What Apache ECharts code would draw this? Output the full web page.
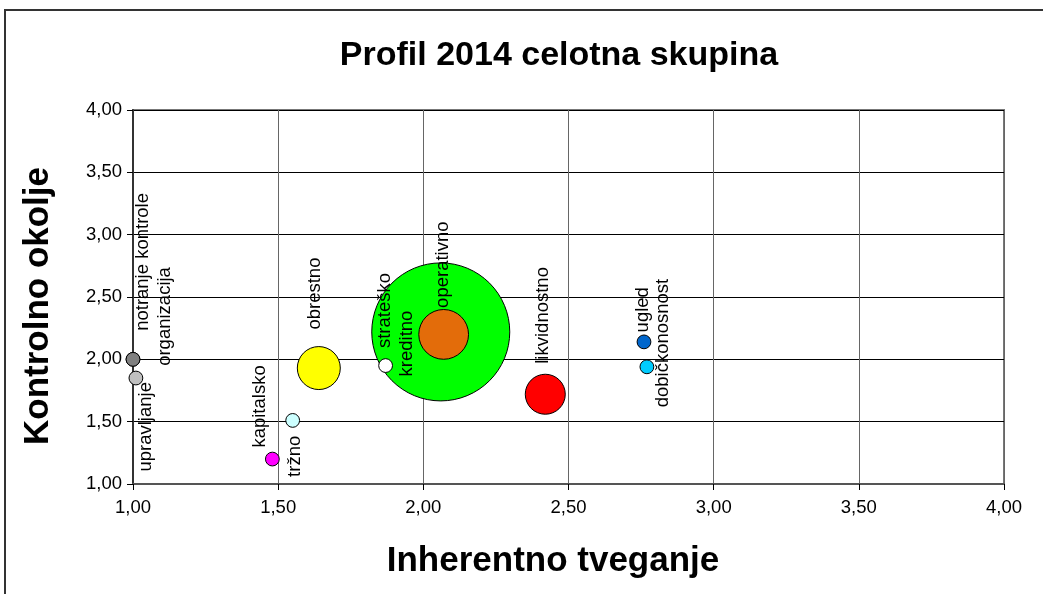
<!DOCTYPE html>
<html>
<head>
<meta charset="utf-8">
<script src="https://cdn.jsdelivr.net/npm/echarts@6/dist/echarts.min.js"></script>
<style>
html,body{margin:0;padding:0;background:#fff;}
#chart{width:1043px;height:594px;}
</style>
</head>
<body>
<div id="chart"></div>
<script>
// risk profile data
var names = ['kreditno','operativno','obrestno','likvidnostno','strateško','tržno','kapitalsko','notranje kontrole','organizacija','upravljanje','ugled','dobičkonosnost'];
var inherentno = [2.06, 2.07, 1.64, 2.42, 1.87, 1.55, 1.48, 1.00, 1.00, 1.01, 2.76, 2.77];
var kontrolno = [2.22, 2.20, 1.93, 1.72, 1.95, 1.51, 1.20, 2.00, 2.00, 1.85, 2.14, 1.94];
var velikost = [100, 13, 9.7, 8.4, 1, 1, 1, 1, 1, 1, 1, 1];
var ticks = [1, 1.5, 2, 2.5, 3, 3.5, 4];

// styles
var colors = ['#00ff00','#e36c0a','#ffff00','#ff0000','#ffffff','#ccffff','#ff00ff','#808080','#808080','#c0c0c0','#0066cc','#00ccff'];
// where the rotated label starts, relative to the bubble centre
var labelOffsets = [[-33,45],[0,-26],[-3,-38],[-2,-30],[0,-17],[3,57],[-12,-11],[10,-28],[32,7],[11,94],[-1,-9],[17,41]];

var FONT = 'Liberation Sans, Arial, sans-serif';
var myChart = echarts.init(document.getElementById('chart'));

var data = [];
for (var i = 0; i < names.length; i++) {
	var size = 2 * 6.9 * Math.sqrt(velikost[i]);
	data.push({
		name: names[i],
		value: [inherentno[i], kontrolno[i], velikost[i]],
		symbolSize: size,
		itemStyle: { color: colors[i] },
		label: { position: [size / 2 + labelOffsets[i][0], size / 2 + labelOffsets[i][1]] }
	});
}

function fmt(v) {
	return v.toFixed(2).replace('.', ',');
}

var option = {
	animation: false,
	textStyle: { fontFamily: FONT },
	graphic: [{
		type: 'rect',
		shape: { x: 5, y: 10, width: 1100, height: 700 },
		style: { fill: 'none', stroke: '#333', lineWidth: 2 },
		silent: true
	}, {
		type: 'text',
		x: 559, y: 56,
		style: { text: 'Profil 2014 celotna skupina', fontSize: 34, fontWeight: 'bold', fontFamily: FONT, fill: '#000', align: 'center', verticalAlign: 'middle' }
	}, {
		type: 'text',
		x: 553, y: 561,
		style: { text: 'Inherentno tveganje', fontSize: 35, fontWeight: 'bold', fontFamily: FONT, fill: '#000', align: 'center', verticalAlign: 'middle' }
	}, {
		type: 'text',
		x: 38, y: 306,
		rotation: Math.PI / 2,
		style: { text: 'Kontrolno okolje', fontSize: 35, fontWeight: 'bold', fontFamily: FONT, fill: '#000', align: 'center', verticalAlign: 'middle' }
	}],
	grid: {
		left: 133,
		right: 39,
		top: 110,
		bottom: 110,
		show: true,
		borderColor: '#777',
		borderWidth: 2
	},
	xAxis: {
		type: 'value',
		min: ticks[0],
		max: ticks[ticks.length - 1],
		interval: ticks[1] - ticks[0],
		axisLine: { show: true, lineStyle: { color: '#555', width: 2 } },
		axisTick: { show: true, length: 6, lineStyle: { color: '#000' } },
		axisLabel: { fontSize: 18.5, color: '#000', margin: 14, formatter: fmt },
		splitLine: { show: true, lineStyle: { color: '#666', width: 1 } }
	},
	yAxis: {
		type: 'value',
		min: ticks[0],
		max: ticks[ticks.length - 1],
		interval: ticks[1] - ticks[0],
		axisLine: { show: true, lineStyle: { color: '#333', width: 2 } },
		axisTick: { show: true, length: 6, lineStyle: { color: '#000' } },
		axisLabel: { fontSize: 18.5, color: '#000', margin: 11, formatter: fmt },
		splitLine: { show: true, lineStyle: { color: '#000', width: 1 } }
	},
	series: [{
		type: 'scatter',
		data: data,
		itemStyle: { borderColor: '#000', borderWidth: 1, opacity: 1 },
		label: {
			show: true,
			rotate: 90,
			align: 'left',
			verticalAlign: 'middle',
			formatter: '{b}',
			fontSize: 18.5,
			color: '#000'
		},
		labelLayout: { hideOverlap: false }
	}]
};

myChart.setOption(option);
</script>
</body>
</html>
